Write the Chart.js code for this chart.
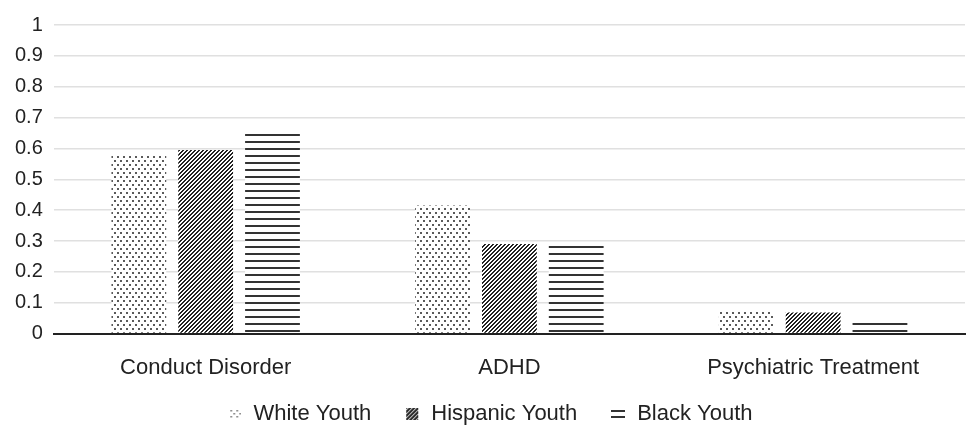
<!DOCTYPE html>
<html>
<head>
<meta charset="utf-8">
<script src="https://cdn.jsdelivr.net/npm/chart.js@4/dist/chart.umd.min.js"></script>
<style>
  html, body { margin: 0; padding: 0; background: #fff; }
  #wrap { width: 970px; height: 427px; }
</style>
</head>
<body>
<div id="wrap"><canvas id="chart"></canvas></div>
<script>
const categories = ["Conduct Disorder", "ADHD", "Psychiatric Treatment"];
const seriesNames = ["White Youth", "Hispanic Youth", "Black Youth"];
const whiteYouth = [0.58, 0.415, 0.07];
const hispanicYouth = [0.595, 0.29, 0.068];
const blackYouth = [0.656, 0.29, 0.04];

const FONT = 'Liberation Sans, Arial, sans-serif';

// small canvas tiles for the bar fills
function makeTile(w, h, draw) {
    const c = document.createElement('canvas');
    c.width = w;
    c.height = h;
    draw(c.getContext('2d'));
    return c;
}

const dotTile = makeTile(6, 8, ctx => {
    ctx.fillStyle = '#fff';
    ctx.fillRect(0, 0, 6, 8);
    ctx.fillStyle = '#5a5a5a';
    ctx.fillRect(0, 0, 2, 2);
    ctx.fillRect(3, 4, 2, 2);
});

const diagTile = makeTile(4, 4, ctx => {
    ctx.fillStyle = '#fff';
    ctx.fillRect(0, 0, 4, 4);
    ctx.fillStyle = '#222';
    for (let x = 0; x < 4; x++) {
        for (let y = 0; y < 4; y++) {
            if ((x + y) % 4 < 2) ctx.fillRect(x, y, 1, 1);
        }
    }
});

const hlineTile = makeTile(8, 7, ctx => {
    ctx.fillStyle = '#fff';
    ctx.fillRect(0, 0, 8, 7);
    ctx.fillStyle = '#333';
    ctx.fillRect(0, 1, 8, 2);
});

const canvas = document.querySelector('#chart');
const ctx = canvas.getContext('2d');
const fills = [
    ctx.createPattern(dotTile, 'repeat'),
    ctx.createPattern(diagTile, 'repeat'),
    ctx.createPattern(hlineTile, 'repeat')
];

// legend icons
const legendIcons = [
    makeTile(12, 12, c => {
        c.fillStyle = '#666';
        [[1, 2], [7, 2], [4, 5], [10, 5], [1, 8], [7, 8]].forEach(p => c.fillRect(p[0], p[1], 1.5, 1.5));
    }),
    makeTile(14, 14, c => {
        c.save();
        c.beginPath();
        c.rect(1, 1, 12, 12);
        c.clip();
        c.strokeStyle = '#222';
        c.lineWidth = 2;
        c.beginPath();
        for (let k = -12; k <= 26; k += 4) {
            c.moveTo(k, 14);
            c.lineTo(k + 14, 0);
        }
        c.stroke();
        c.restore();
    }),
    makeTile(14, 14, c => {
        c.fillStyle = '#333';
        c.fillRect(0, 3, 14, 2);
        c.fillRect(0, 9, 14, 2);
    })
];

// legend drawn by hand so the item spacing can follow the picture
const bottomLegend = {
    id: 'bottomLegend',
    afterDraw(chart) {
        const c = chart.ctx;
        const y = 414;
        const gapIcon = 12, gapItem = 34;
        c.save();
        c.font = '22px ' + FONT;
        c.fillStyle = '#222';
        c.textBaseline = 'middle';
        const widths = seriesNames.map((n, i) => legendIcons[i].width + gapIcon + c.measureText(n).width);
        const total = widths.reduce((a, b) => a + b, 0) + gapItem * (widths.length - 1);
        let x = chart.width / 2 + 6 - total / 2;
        seriesNames.forEach((n, i) => {
            const icon = legendIcons[i];
            c.drawImage(icon, x, Math.round(y - icon.height / 2));
            x += icon.width + gapIcon;
            c.fillText(n, x, y);
            x += c.measureText(n).width + gapItem;
        });
        c.restore();
    }
};

const dataSeries = [whiteYouth, hispanicYouth, blackYouth];

new Chart(ctx, {
    type: 'bar',
    data: {
        labels: categories,
        datasets: seriesNames.map((name, i) => ({
            label: name,
            data: dataSeries[i],
            backgroundColor: fills[i],
            borderWidth: 0,
            barPercentage: 0.82,
            categoryPercentage: 0.66
        }))
    },
    options: {
        responsive: true,
        maintainAspectRatio: false,
        animation: false,
        layout: { padding: { top: 14, right: 5, left: 4, bottom: 33 } },
        plugins: {
            tooltip: { enabled: false },
            legend: { display: false }
        },
        scales: {
            x: {
                grid: { display: false },
                border: { color: '#222', width: 2 },
                ticks: {
                    color: '#222',
                    padding: 13,
                    font: { family: FONT, size: 22 }
                }
            },
            y: {
                min: 0,
                max: 1,
                grid: { color: '#e0e0e0', lineWidth: 1.5, drawTicks: false },
                border: { display: false },
                ticks: {
                    stepSize: 0.1,
                    autoSkip: false,
                    color: '#222',
                    padding: 11,
                    font: { family: FONT, size: 20, lineHeight: 1.4 },
                    callback: v => Number(v.toFixed(1)).toString()
                }
            }
        }
    },
    plugins: [bottomLegend]
});
</script>
</body>
</html>
